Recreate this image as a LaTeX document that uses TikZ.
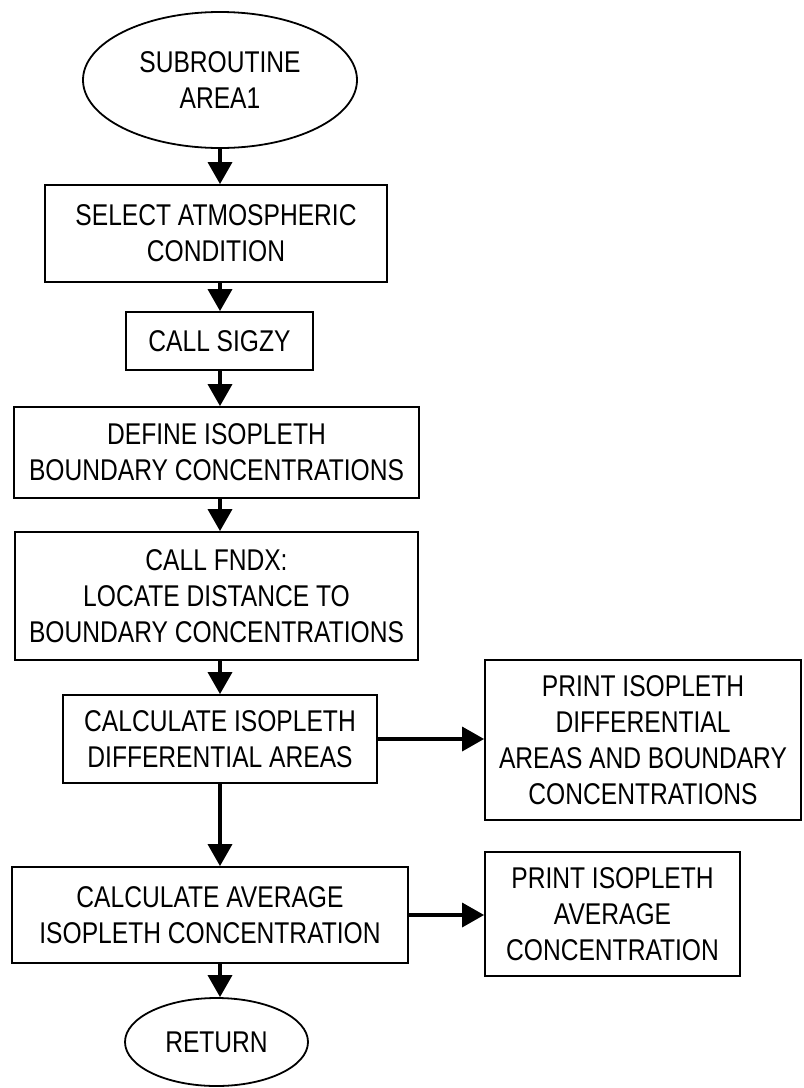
\documentclass[tikz,border=0pt]{standalone}
\usepackage{fontspec}
\setmainfont{Liberation Sans}[FakeStretch=0.82]
\usetikzlibrary{shapes.geometric,arrows.meta}
\begin{document}
\begin{tikzpicture}[x=1bp,y=-1bp,
  every node/.style={align=center,font=\fontsize{30bp}{36bp}\selectfont,inner sep=0pt},
  procbox/.style={draw,line width=1.8bp,rectangle},
  term/.style={draw,line width=1.8bp,ellipse},
  flow/.style={line width=3.5bp,-{Triangle[width=24bp,length=22bp]}}]
\useasboundingbox (0,0) rectangle (804,1088);
\node[term,minimum width=274bp,minimum height=136bp] (start) at (220,80) {SUBROUTINE\\AREA1};
\node[procbox,minimum width=342bp,minimum height=97bp] (b1) at (216,233.5) {SELECT ATMOSPHERIC\\CONDITION};
\node[procbox,minimum width=187bp,minimum height=58bp] (b2) at (219.5,341) {CALL SIGZY};
\node[procbox,minimum width=405bp,minimum height=91bp] (b3) at (216.5,452.5) {DEFINE ISOPLETH\\BOUNDARY CONCENTRATIONS};
\node[procbox,minimum width=403bp,minimum height=128bp] (b4) at (216.5,596) {CALL FNDX:\\LOCATE DISTANCE TO\\BOUNDARY CONCENTRATIONS};
\node[procbox,minimum width=314bp,minimum height=88bp] (b5) at (220,739) {CALCULATE ISOPLETH\\DIFFERENTIAL AREAS};
\node[procbox,minimum width=396bp,minimum height=96bp] (b6) at (210,915) {CALCULATE AVERAGE\\ISOPLETH CONCENTRATION};
\node[procbox,minimum width=316bp,minimum height=160bp] (r1) at (643,740) {PRINT ISOPLETH\\DIFFERENTIAL\\AREAS AND BOUNDARY\\CONCENTRATIONS};
\node[procbox,minimum width=255bp,minimum height=124bp] (r2) at (612.5,914) {PRINT ISOPLETH\\AVERAGE\\CONCENTRATION};
\node[term,minimum width=183bp,minimum height=88bp] (ret) at (216.5,1042) {RETURN};
\coordinate (col) at (220,0);
\draw[flow] (start.south -| col) -- (b1.north -| col);
\draw[flow] (b1.south -| col) -- (b2.north -| col);
\draw[flow] (b2.south -| col) -- (b3.north -| col);
\draw[flow] (b3.south -| col) -- (b4.north -| col);
\draw[flow] (b4.south -| col) -- (b5.north -| col);
\draw[flow] (b5.south -| col) -- (b6.north -| col);
\draw[flow] (b6.south -| col) -- (ret.north -| col);
\draw[flow] (b5.east) -- (r1.west |- b5.east);
\draw[flow] (b6.east) -- (r2.west |- b6.east);
\end{tikzpicture}
\end{document}
